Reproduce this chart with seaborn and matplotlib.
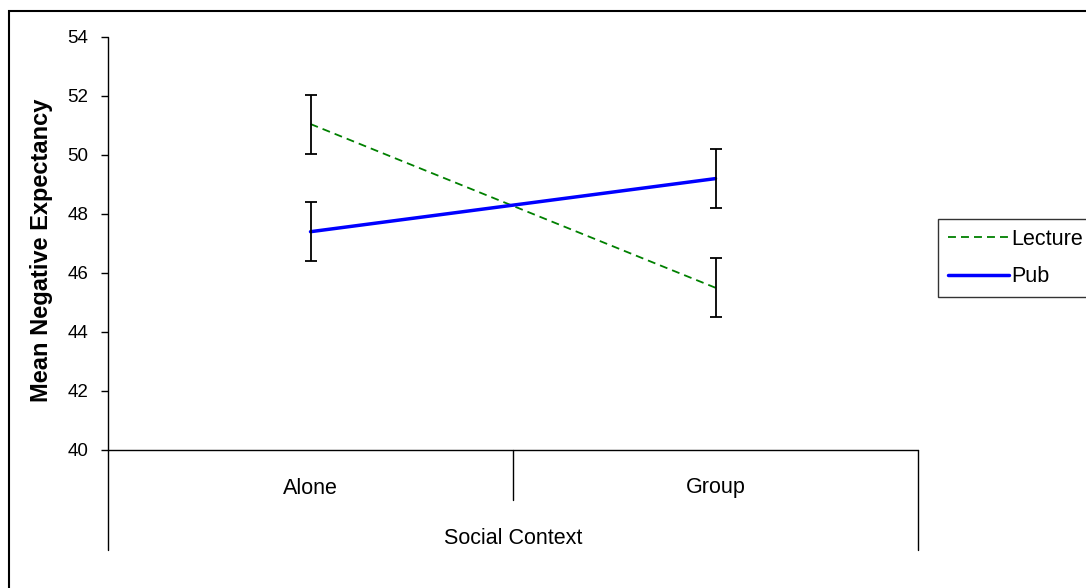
import matplotlib
matplotlib.use("Agg")
import matplotlib.pyplot as plt
from matplotlib.lines import Line2D
from matplotlib.patches import Rectangle
import seaborn as sns
import pandas as pd

# Interaction data: mean negative expectancy by social context and venue
contexts = ["Alone", "Group"]
venues = ["Lecture", "Pub"]
lecture_means = [51.05, 45.5]
pub_means = [47.4, 49.2]
lecture_err = [1.0, 1.0]
pub_err = [1.0, 1.0]
y_ticks = [40, 42, 44, 46, 48, 50, 52, 54]

df = pd.DataFrame({
    "context": contexts * 2,
    "venue": ["Lecture"] * 2 + ["Pub"] * 2,
    "mean": lecture_means + pub_means,
    "err": lecture_err + pub_err,
})

sns.set_style("white")
plt.rcParams["font.family"] = ["Liberation Sans", "DejaVu Sans"]
for key in ["text.color", "axes.labelcolor", "xtick.color", "ytick.color"]:
    plt.rcParams[key] = "black"

W, H = 1086, 588
fig = plt.figure(figsize=(W / 100, H / 100), dpi=100)
ax = fig.add_axes([108 / W, 1 - 450 / H, 810 / W, 413 / H])

colors = {"Lecture": "#008000", "Pub": "#0000ff"}
widths = {"Lecture": 1.3, "Pub": 2.5}
lecture_dash = (4.4, 2.8)

for v in venues:
    sub = df[df["venue"] == v]
    sns.lineplot(data=sub, x="context", y="mean", ax=ax, color=colors[v],
                 linewidth=widths[v], sort=False, errorbar=None, legend=False)
    if v == "Lecture":
        ax.lines[-1].set_dashes(lecture_dash)
    ax.errorbar(sub["context"], sub["mean"], yerr=sub["err"], fmt="none",
                ecolor="black", elinewidth=1.3, capsize=4, capthick=1.3, zorder=3)

ax.set_xlim(-0.5, 1.5)
ax.set_ylim(40, 54)
ax.set_yticks(y_ticks)
ax.set_yticklabels([str(t) for t in y_ticks], fontsize=13.5)
ax.set_xticks([])
ax.set_xlabel("")
ax.set_ylabel("Mean Negative Expectancy", fontsize=17, fontweight="bold")
ax.yaxis.set_label_coords(-55 / 810, 200 / 413)
ax.tick_params(axis="y", direction="out", length=5, width=1, color="black", left=True, pad=9)

for s in ["top", "right", "bottom", "left"]:
    ax.spines[s].set_visible(False)

# Axis frame drawn by hand so the category table extends below the plot
tr = ax.transAxes
low = -100 / 413
mid = -50 / 413
kw = dict(transform=tr, color="black", lw=1.0, clip_on=False)
ax.add_line(Line2D([0, 0], [1, low], **kw))
ax.add_line(Line2D([0, 1], [0, 0], **kw))
ax.add_line(Line2D([1, 1], [0, low], **kw))
ax.add_line(Line2D([0.5, 0.5], [0, mid], **kw))

for xc, lab in zip([0.25, 0.75], contexts):
    ax.text(xc, -38 / 413, lab, transform=tr, ha="center", va="center", fontsize=15.5)
ax.text(0.5, -88 / 413, "Social Context", transform=tr, ha="center", va="center", fontsize=15.5)

handles = [Line2D([], [], color=colors["Lecture"], lw=widths["Lecture"], dashes=lecture_dash),
           Line2D([], [], color=colors["Pub"], lw=widths["Pub"])]
leg = fig.legend(handles, venues, loc="upper left",
                 bbox_to_anchor=(938 / W, 1 - 219 / H), fontsize=15.5,
                 frameon=True, fancybox=False, edgecolor="black",
                 handlelength=2.85, handletextpad=0.12, borderpad=0.45,
                 labelspacing=0.78, borderaxespad=0)
leg.get_frame().set_linewidth(1.0)

# Outer chart border
fig.patches.append(Rectangle((9 / W, -0.2), 1.2, 1.2 - 11 / H, fill=False,
                             edgecolor="black", lw=1.5, transform=fig.transFigure))

fig.savefig("out.png", dpi=100)
